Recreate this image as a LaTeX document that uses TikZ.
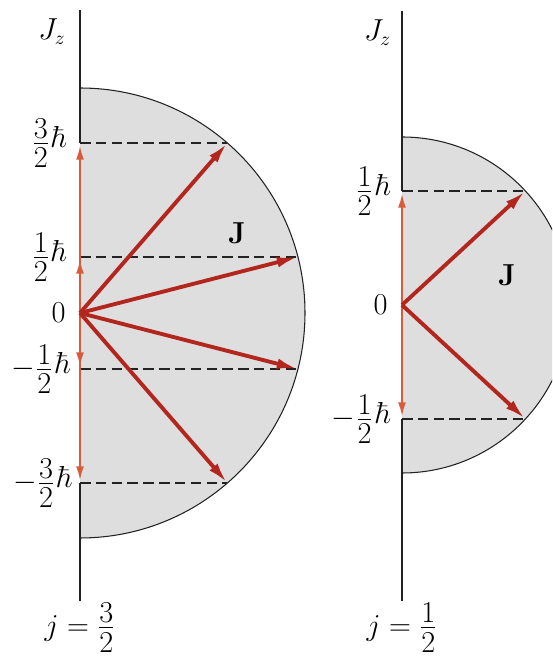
\documentclass[tikz,border=0pt]{standalone}
\usepackage{amsmath}
\usetikzlibrary{arrows.meta,positioning,calc}
\definecolor{discfill}{HTML}{DEDEDF}
\definecolor{jline}{HTML}{B3261E}
\definecolor{jzline}{HTML}{D85B3A}
\definecolor{inkgray}{HTML}{222222}
\newcommand{\levfrac}[2]{\frac{\textstyle #1\vrule width 0pt depth 0.12em}%
  {\textstyle #2\vrule width 0pt height 0.8em}}
\newcommand{\hb}{\mkern1mu\raisebox{0.3ex}{$\hbar$}}

\begin{document}
\begin{tikzpicture}[
  x=0.02cm, y=0.02cm,
  axis/.style  = {draw=inkgray, line width=0.7pt},
  rim/.style   = {draw=inkgray, line width=0.6pt},
  lev/.style   = {draw=inkgray, line width=0.6pt, dash pattern=on 6pt off 3pt},
  jvec/.style  = {-{Latex[length=12pt,width=6pt]}, draw=jline, line width=2.2pt},
  jzvec/.style = {-{Latex[length=8pt,width=4.5pt]}, draw=jzline, line width=1.1pt,
                  shorten >=1.5pt},
  lbl/.style   = {font=\fontsize{16}{19}\selectfont, text=black, inner sep=1pt},
]
\useasboundingbox (0,0) rectangle (552,662);
\clip (0,0) rectangle (552,662);

% --- j = 3/2: axis, levels and points on the rim -----------------------------------------------
\coordinate (o1) at (80,349);
\coordinate (t1) at (80,652);
\coordinate (e1) at (80,61);
\coordinate (a3) at (80,519);
\coordinate (a1) at (80,405);
\coordinate (b1) at (80,293);
\coordinate (b3) at (80,179);
\coordinate (c3) at (227.4,519);
\coordinate (c1) at (297.9,405);
\coordinate (d1) at (297.9,293);
\coordinate (d3) at (227.4,179);

% --- j = 1/2: axis, levels and points on the rim -----------------------------------------------
\coordinate (o2) at (402,357);
\coordinate (t2) at (402,651);
\coordinate (e2) at (402,61);
\coordinate (ah) at (402,471);
\coordinate (bh) at (402,243);
\coordinate (ch) at (525.4,471);
\coordinate (dh) at (525.4,243);

% --- the shaded half discs ---------------------------------------------------------------------
\fill[discfill] (80,574) arc[start angle=90, end angle=-90, radius=225] -- cycle;
\fill[discfill] (402,525) arc[start angle=90, end angle=-90, radius=168] -- cycle;

\draw[lev] (a3) -- (c3);
\draw[lev] (a1) -- (c1);
\draw[lev] (b1) -- (d1);
\draw[lev] (b3) -- (d3);
\draw[lev] (ah) -- (ch);
\draw[lev] (bh) -- (dh);

\draw[rim] (80,574) arc[start angle=90, end angle=-90, radius=225];
\draw[rim] (402,525) arc[start angle=90, end angle=-90, radius=168];

\draw[axis] (t1) -- (a3);
\draw[axis] (b3) -- (e1);
\draw[axis] (t2) -- (ah);
\draw[axis] (bh) -- (e2);

% --- the z components --------------------------------------------------------------------------
\draw[jzvec] (o1) -- (a3);
\draw[jzvec] (o1) -- (a1);
\draw[jzvec] (o1) -- (b1);
\draw[jzvec] (o1) -- (b3);
\draw[jzvec] (o2) -- (ah);
\draw[jzvec] (o2) -- (bh);

% --- the vectors J -----------------------------------------------------------------------------
\draw[jvec] (o1) -- (c3);
\draw[jvec] (o1) -- (c1);
\draw[jvec] (o1) -- (d1);
\draw[jvec] (o1) -- (d3);
\draw[jvec] (o2) -- (ch);
\draw[jvec] (o2) -- (dh);

% --- labels ------------------------------------------------------------------------------------
\node[lbl, below left=4pt and 7pt of t1] (jz1) {$J_z$};
\node[lbl, left=6pt of a3] (la3) {$\levfrac{3}{2}\hb$};
\node[lbl, left=6pt of a1] (la1) {$\levfrac{1}{2}\hb$};
\node[lbl, left=7pt of o1] (zero1) {$0$};
\node[lbl, left=4pt of b1] (lb1) {$-\levfrac{1}{2}\hb$};
\node[lbl, left=3pt of b3] (lb3) {$-\levfrac{3}{2}\hb$};
\node[lbl, font=\fontsize{19}{22}\selectfont] (bigj1) at (237,429) {$\mathbf{J}$};
\node[lbl, below=0pt of e1] (jval1) {$j=\levfrac{3}{2}$};

\node[lbl, below left=4pt and 5pt of t2] (jz2) {$J_z$};
\node[lbl, left=5pt of ah] (lah) {$\levfrac{1}{2}\hb$};
\node[lbl, left=7pt of o2] (zero2) {$0$};
\node[lbl, left=5pt of bh] (lbh) {$-\levfrac{1}{2}\hb$};
\node[lbl, font=\fontsize{19}{22}\selectfont] (bigj2) at (507,387) {$\mathbf{J}$};
\node[lbl, below=0pt of e2] (jval2) {$j=\levfrac{1}{2}$};

\end{tikzpicture}
\end{document}
